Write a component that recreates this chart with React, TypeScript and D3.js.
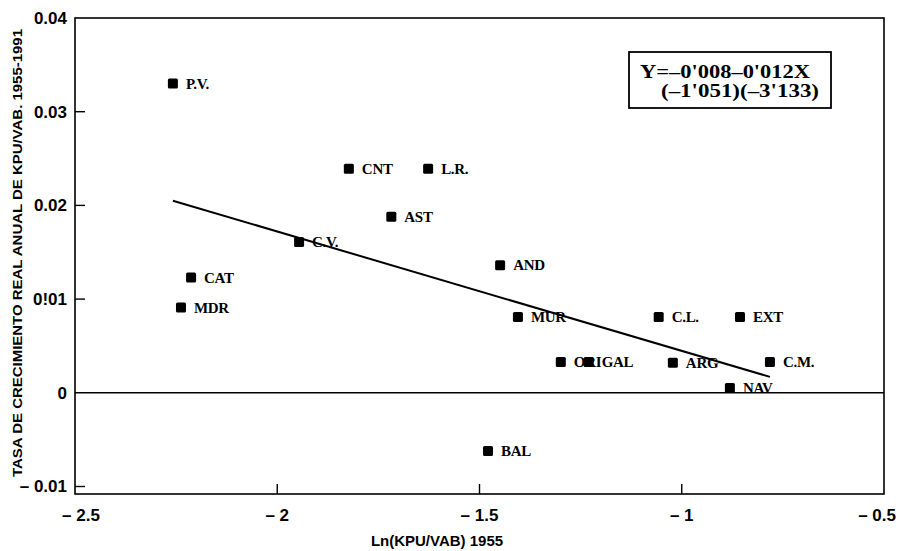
import * as d3 from "d3";

// regions: Ln(KPU/VAB) 1955 vs growth rate 1955-1991
const regions = ["P.V.", "CNT", "L.R.", "AST", "C.V.", "CAT", "MDR", "AND", "MUR", "ORI", "GAL", "C.L.", "ARG", "NAV", "EXT", "C.M.", "BAL"];
const lnKpu = [-2.258, -1.823, -1.627, -1.718, -1.946, -2.213, -2.238, -1.449, -1.405, -1.299, -1.23, -1.057, -1.022, -0.881, -0.856, -0.782, -1.479];
const growth = [0.033, 0.0239, 0.0239, 0.0188, 0.0161, 0.0123, 0.0091, 0.0136, 0.0081, 0.0033, 0.0033, 0.0081, 0.0032, 0.0005, 0.0081, 0.0033, -0.0062];

// fitted line, drawn between the min and max x
const fitX = [-2.258, -0.782];
const fitY = [0.0205, 0.0017];

const xTicks = [-2.5, -2, -1.5, -1, -0.5];
const xTickLabels = ["\u2013 2.5", "\u2013 2", "\u2013 1.5", "\u2013 1", "\u2013 0.5"];
const yTicks = [0.04, 0.03, 0.02, 0.01, 0, -0.01];
const yTickLabels = ["0.04", "0.03", "0.02", "0!01", "0", "\u2013 0.01"];

const W = 900;
const H = 551;
const m = { left: 75, right: 16, top: 18, bottom: 57 };

const sans = "'Liberation Sans', Arial, Helvetica, sans-serif";
const serif = "'Liberation Serif', 'Times New Roman', serif";

export default function App() {
  const x = d3.scaleLinear().domain([-2.5, -0.5]).range([m.left, W - m.right]);
  const y = d3.scaleLinear().domain([-0.0108, 0.04]).range([H - m.bottom, m.top]);
  const [x0, x1] = x.range();
  const [yb, yt] = y.range();

  const line = d3
    .line<number>()
    .x((_, i) => x(fitX[i]))
    .y((d) => y(d));

  return (
    <svg width={W} height={H} style={{ display: "block", position: "absolute", left: 0, top: 0, background: "#fff" }}>
      {/* frame */}
      <rect x={x0} y={yt} width={x1 - x0} height={yb - yt} fill="none" stroke="#000" strokeWidth={1.6} />
      <line x1={x0} x2={x1} y1={y(0)} y2={y(0)} stroke="#000" strokeWidth={1.6} />

      {/* y ticks */}
      {yTicks.map((t, i) => (
        <g key={"y" + i}>
          {t !== 0.04 && t > -0.0105 && t !== 0 ? (
            <line x1={x0} x2={x0 + 10} y1={y(t)} y2={y(t)} stroke="#000" strokeWidth={1.4} />
          ) : null}
          <text
            x={x0 - 8}
            y={y(t)}
            dy="0.35em"
            textAnchor="end"
            fontFamily={sans}
            fontWeight="bold"
            fontSize={17}
          >
            {yTickLabels[i]}
          </text>
        </g>
      ))}

      {/* x ticks */}
      {xTicks.map((t, i) => {
        const last = i === xTicks.length - 1;
        return (
          <g key={"x" + i}>
            {i > 0 && !last ? (
              <line x1={x(t)} x2={x(t)} y1={yb} y2={yb - 10} stroke="#000" strokeWidth={1.4} />
            ) : null}
            <text
              x={last ? W - 4 : i === 0 ? x(t) + 6 : x(t)}
              y={yb + 27}
              textAnchor={last ? "end" : "middle"}
              fontFamily={sans}
              fontWeight="bold"
              fontSize={17}
            >
              {xTickLabels[i]}
            </text>
          </g>
        );
      })}

      {/* axis titles */}
      <text x={437} y={H - 5} textAnchor="middle" fontFamily={sans} fontWeight="bold" fontSize={15}>
        Ln(KPU/VAB) 1955
      </text>
      <text
        transform={`translate(22, 253) rotate(-90)`}
        textAnchor="middle"
        fontFamily={sans}
        fontWeight="bold"
        fontSize={12.5}
        textLength={448}
        lengthAdjust="spacingAndGlyphs"
      >
        TASA DE CRECIMIENTO REAL ANUAL DE KPU/VAB. 1955-1991
      </text>

      {/* regression line */}
      <path d={line(fitY) ?? ""} fill="none" stroke="#000" strokeWidth={2} />

      {/* points */}
      {regions.map((r, i) => (
        <g key={r}>
          <rect x={x(lnKpu[i]) - 5} y={y(growth[i]) - 5} width={10} height={10} rx={1.5} fill="#000" />
          <text
            x={x(lnKpu[i]) + 13}
            y={y(growth[i]) + 5}
            fontFamily={serif}
            fontWeight="bold"
            fontSize={15}
            letterSpacing={-0.3}
          >
            {r}
          </text>
        </g>
      ))}

      {/* equation box */}
      <rect x={629} y={52} width={202} height={56} fill="#fff" stroke="#000" strokeWidth={1.8} />
      <text
        x={640}
        y={78}
        fontFamily={serif}
        fontWeight="bold"
        fontSize={19}
        textLength={170}
        lengthAdjust="spacingAndGlyphs"
      >
        Y=–0'008–0'012X
      </text>
      <text
        x={661}
        y={97}
        fontFamily={serif}
        fontWeight="bold"
        fontSize={19}
        textLength={158}
        lengthAdjust="spacingAndGlyphs"
      >
        (–1'051)(–3'133)
      </text>
    </svg>
  );
}
